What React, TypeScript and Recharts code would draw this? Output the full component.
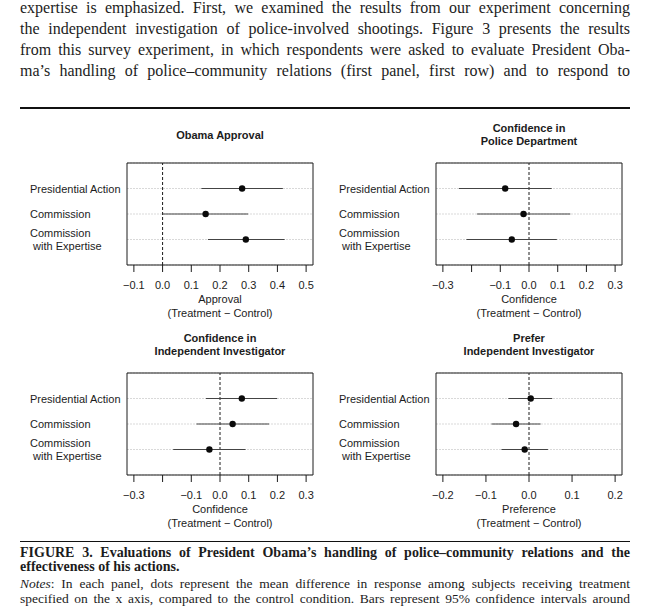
import React from "react";
import {
  CartesianGrid,
  ErrorBar,
  ReferenceArea,
  ReferenceLine,
  Scatter,
  ScatterChart,
  XAxis,
  YAxis,
} from "recharts";

// rows, top to bottom
const rowIndex = [1, 2, 3];
const rowLabels = [["Presidential Action"], ["Commission"], ["Commission", "\u00a0with Expertise"]];

// Obama Approval
const approvalMean = [0.277, 0.15, 0.29];
const approvalLow = [0.135, 0.0, 0.158];
const approvalHigh = [0.419, 0.298, 0.425];

// Confidence in Police Department
const policeMean = [-0.083, -0.019, -0.06];
const policeLow = [-0.244, -0.181, -0.218];
const policeHigh = [0.079, 0.144, 0.097];

// Confidence in Independent Investigator
const investigatorMean = [0.076, 0.044, -0.037];
const investigatorLow = [-0.049, -0.082, -0.163];
const investigatorHigh = [0.199, 0.171, 0.089];

// Prefer Independent Investigator
const preferMean = [0.004, -0.03, -0.01];
const preferLow = [-0.048, -0.087, -0.064];
const preferHigh = [0.054, 0.027, 0.044];

const approvalTicks = [-0.1, 0, 0.1, 0.2, 0.3, 0.4, 0.5];
const approvalTickLabels = ["\u22120.1", "0.0", "0.1", "0.2", "0.3", "0.4", "0.5"];
const confidenceTicks = [-0.3, -0.2, -0.1, 0, 0.1, 0.2, 0.3];
const confidenceTickLabels = ["\u22120.3", "", "\u22120.1", "0.0", "0.1", "0.2", "0.3"];
const preferTicks = [-0.2, -0.1, 0, 0.1, 0.2];
const preferTickLabels = ["\u22120.2", "\u22120.1", "0.0", "0.1", "0.2"];

const paragraph = [
  "expertise is emphasized. First, we examined the results from our experiment concerning",
  "the independent investigation of police-involved shootings. Figure 3 presents the results",
  "from this survey experiment, in which respondents were asked to evaluate President Oba-",
  "ma\u2019s handling of police\u2013community relations (first panel, first row) and to respond to",
];
const caption = [
  "FIGURE 3. Evaluations of President Obama\u2019s handling of police\u2013community relations and the",
  "effectiveness of his actions.",
];
const notes = [
  ": In each panel, dots represent the mean difference in response among subjects receiving treatment",
  "specified on the x axis, compared to the control condition. Bars represent 95% confidence intervals around",
];

const SANS = '"Liberation Sans", Arial, sans-serif';
const SERIF = '"Liberation Serif", "Times New Roman", serif';
const INK = "#1c1c1c";

const Y_W = 127; // room for row labels
const PLOT_W = 186;
const PLOT_H = 102;
const TOP = 60; // space above plot box for the title

function RowTick({ y, payload }: any) {
  const lines = rowLabels[rowIndex.indexOf(payload.value)] ?? [];
  const gap = 13.4;
  const first = y - ((lines.length - 1) * gap) / 2 + 4;
  return (
    <text x={30} y={first} fill={INK} fontSize={11} fontFamily={SANS} textAnchor="start">
      {lines.map((l, i) => (
        <tspan key={i} x={30} y={first + i * gap}>
          {l}
        </tspan>
      ))}
    </text>
  );
}

function Panel({
  left,
  top,
  title,
  axisTitle,
  mean,
  low,
  high,
  ticks,
  tickLabels,
}: {
  left: number;
  top: number;
  title: string[];
  axisTitle: string[];
  mean: number[];
  low: number[];
  high: number[];
  ticks: number[];
  tickLabels: string[];
}) {
  const data = rowIndex.map((row, i) => ({
    row,
    mean: mean[i],
    err: [mean[i] - low[i], high[i] - mean[i]],
  }));
  const lo = ticks[0];
  const hi = ticks[ticks.length - 1];
  const pad = (hi - lo) * 0.04;
  const domain: [number, number] = [lo - pad, hi + pad];
  const lh = 13.7;

  return (
    <div style={{ position: "absolute", left, top, width: 320, height: 210 }}>
      <div
        style={{
          position: "absolute",
          left: Y_W,
          width: PLOT_W,
          top: 32.4 - (title.length * lh) / 2,
          textAlign: "center",
          fontFamily: SANS,
          fontWeight: "bold",
          fontSize: 11,
          lineHeight: `${lh}px`,
          color: INK,
          whiteSpace: "nowrap",
        }}
      >
        {title.map((t) => (
          <div key={t}>{t}</div>
        ))}
      </div>
      <ScatterChart
        width={320}
        height={TOP + PLOT_H + 30}
        margin={{ top: TOP, right: 320 - Y_W - PLOT_W, bottom: 0, left: 0 }}
        style={{ position: "absolute", left: 0, top: 0 }}
      >
        <CartesianGrid vertical={false} stroke="#d9d9d9" strokeDasharray="2 1" />
        <XAxis
          type="number"
          dataKey="mean"
          domain={domain}
          allowDataOverflow
          ticks={ticks}
          interval={0}
          tickFormatter={(v: number) => {
            const k = ticks.findIndex((t) => Math.abs(t - v) < 1e-9);
            return k >= 0 ? tickLabels[k] : "";
          }}
          axisLine={false}
          tickSize={7}
          tickMargin={9}
          tickLine={{ stroke: INK }}
          tick={{ fontSize: 11, fill: INK, fontFamily: SANS }}
          height={30}
        />
        <YAxis
          type="number"
          dataKey="row"
          domain={[0, 4]}
          reversed
          ticks={rowIndex}
          interval={0}
          width={Y_W}
          axisLine={false}
          tickLine={false}
          tick={<RowTick />}
        />
        <ReferenceArea
          x1={domain[0]}
          x2={domain[1]}
          y1={0}
          y2={4}
          fill="none"
          stroke={INK}
          strokeWidth={1}
          fillOpacity={0}
        />
        <ReferenceLine x={0} stroke={INK} strokeDasharray="3 2" />
        <Scatter
          data={data}
          isAnimationActive={false}
          shape={(p: any) => <circle cx={p.cx} cy={p.cy} r={3.2} fill="#0a0a0a" />}
        >
          <ErrorBar dataKey="err" direction="x" width={0} stroke="#444" strokeWidth={1.2} isAnimationActive={false} />
        </Scatter>
      </ScatterChart>
      <div
        style={{
          position: "absolute",
          left: Y_W - 20,
          width: PLOT_W + 40,
          top: TOP + PLOT_H + 35 - 6.8,
          textAlign: "center",
          fontFamily: SANS,
          fontSize: 11,
          lineHeight: "13.5px",
          color: INK,
          whiteSpace: "nowrap",
        }}
      >
        {axisTitle.map((t) => (
          <div key={t}>{t}</div>
        ))}
      </div>
    </div>
  );
}

function Line({
  baseline,
  size,
  bold,
  justify,
  children,
}: {
  baseline: number;
  size: number;
  bold?: boolean;
  justify?: boolean;
  children: React.ReactNode;
}) {
  return (
    <div
      style={{
        position: "absolute",
        left: 20,
        width: 610,
        top: baseline - 0.8375 * size,
        fontFamily: SERIF,
        fontSize: size,
        lineHeight: `${size}px`,
        fontWeight: bold ? "bold" : "normal",
        color: INK,
        whiteSpace: "nowrap",
        textAlign: justify ? "justify" : "left",
        textAlignLast: justify ? "justify" : "left",
      }}
    >
      {children}
    </div>
  );
}

export default function App() {
  return (
    <div
      style={{
        position: "absolute",
        left: 0,
        top: 0,
        width: 651,
        height: 614,
        background: "#fff",
        overflow: "hidden",
      }}
    >
      {paragraph.map((t, i) => (
        <Line key={i} baseline={13.5 + i * 20.9} size={16} justify>
          {t}
        </Line>
      ))}
      <div style={{ position: "absolute", left: 20, width: 610, top: 107.2, height: 2.3, background: "#111" }} />

      <Panel
        left={0}
        top={103}
        title={["Obama Approval"]}
        axisTitle={["Approval", "(Treatment \u2212 Control)"]}
        mean={approvalMean}
        low={approvalLow}
        high={approvalHigh}
        ticks={approvalTicks}
        tickLabels={approvalTickLabels}
      />
      <Panel
        left={309}
        top={103}
        title={["Confidence in", "Police Department"]}
        axisTitle={["Confidence", "(Treatment \u2212 Control)"]}
        mean={policeMean}
        low={policeLow}
        high={policeHigh}
        ticks={confidenceTicks}
        tickLabels={confidenceTickLabels}
      />
      <Panel
        left={0}
        top={313}
        title={["Confidence in", "Independent Investigator"]}
        axisTitle={["Confidence", "(Treatment \u2212 Control)"]}
        mean={investigatorMean}
        low={investigatorLow}
        high={investigatorHigh}
        ticks={confidenceTicks}
        tickLabels={confidenceTickLabels}
      />
      <Panel
        left={309}
        top={313}
        title={["Prefer", "Independent Investigator"]}
        axisTitle={["Preference", "(Treatment \u2212 Control)"]}
        mean={preferMean}
        low={preferLow}
        high={preferHigh}
        ticks={preferTicks}
        tickLabels={preferTickLabels}
      />

      <div style={{ position: "absolute", left: 20, width: 610, top: 541, height: 1.3, background: "#111" }} />
      <Line baseline={557.7} size={14} bold justify>
        {caption[0]}
      </Line>
      <Line baseline={572} size={14} bold>
        {caption[1]}
      </Line>
      <Line baseline={588} size={13.5} justify>
        <i>Notes</i>
        {notes[0]}
      </Line>
      <Line baseline={603.3} size={13.5} justify>
        {notes[1]}
      </Line>
    </div>
  );
}
